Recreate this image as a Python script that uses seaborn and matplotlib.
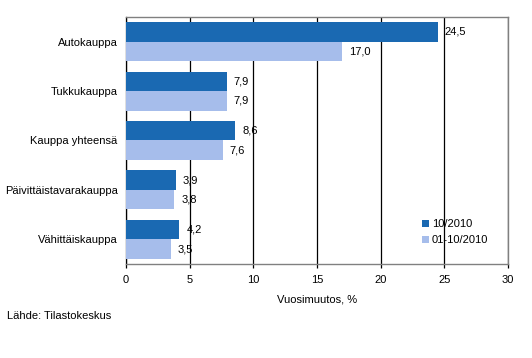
import pandas as pd
import matplotlib.pyplot as plt
import seaborn as sns

# Data
toimialat = ['Autokauppa', 'Tukkukauppa', 'Kauppa yhteensä',
             'Päivittäistavarakauppa', 'Vähittäiskauppa']
kk_10_2010 = [24.5, 7.9, 8.6, 3.9, 4.2]
kk_01_10_2010 = [17.0, 7.9, 7.6, 3.8, 3.5]
sarjat = ['10/2010', '01-10/2010']

df = pd.DataFrame({
    'toimiala': toimialat * 2,
    'muutos': kk_10_2010 + kk_01_10_2010,
    'sarja': [sarjat[0]] * len(toimialat) + [sarjat[1]] * len(toimialat),
})

sns.set_style('white')
plt.rcParams['font.family'] = ['Liberation Sans', 'DejaVu Sans']
plt.rcParams['font.size'] = 8
plt.rcParams['text.color'] = 'black'
plt.rcParams['xtick.color'] = 'black'
plt.rcParams['ytick.color'] = 'black'
plt.rcParams['axes.labelcolor'] = 'black'

fig = plt.figure(figsize=(5.32, 3.58), dpi=100)
ax = fig.add_axes([0.2368, 0.2626, 0.718, 0.690])

sns.barplot(data=df, y='toimiala', x='muutos', hue='sarja', orient='h',
            palette=['#1A69B2', '#A6BDEB'], saturation=1, width=0.79,
            linewidth=0, edgecolor='none', ax=ax, zorder=3)

for cont in ax.containers:
    ax.bar_label(cont, labels=[f'{v:.1f}'.replace('.', ',') for v in cont.datavalues],
                 padding=5, fontsize=8)

ax.set_xlim(0, 30)
ax.set_xticks(range(0, 31, 5))
ax.xaxis.grid(True, color='black', linewidth=0.9, zorder=0)
ax.set_axisbelow(True)
ax.tick_params(axis='x', direction='out', length=3, width=0.9, color='black',
               bottom=True, labelsize=8, pad=5)
ax.tick_params(axis='y', length=0, pad=6, labelsize=8)
ax.set_ylabel('')
ax.set_xlabel('Vuosimuutos, %', fontsize=8, labelpad=7)
for s in ['top', 'right', 'bottom']:
    ax.spines[s].set_color('#808080')
    ax.spines[s].set_linewidth(1)
ax.spines['left'].set_color('black')
ax.spines['left'].set_linewidth(0.9)

ax.legend(loc='lower right', bbox_to_anchor=(0.975, 0.035), frameon=False,
          fontsize=8, handlelength=0.6, handleheight=0.6, handletextpad=0.3,
          labelspacing=0.55)

fig.text(0.013, 0.108, 'Lähde: Tilastokeskus', fontsize=8)

fig.savefig('out.png', dpi=100)
